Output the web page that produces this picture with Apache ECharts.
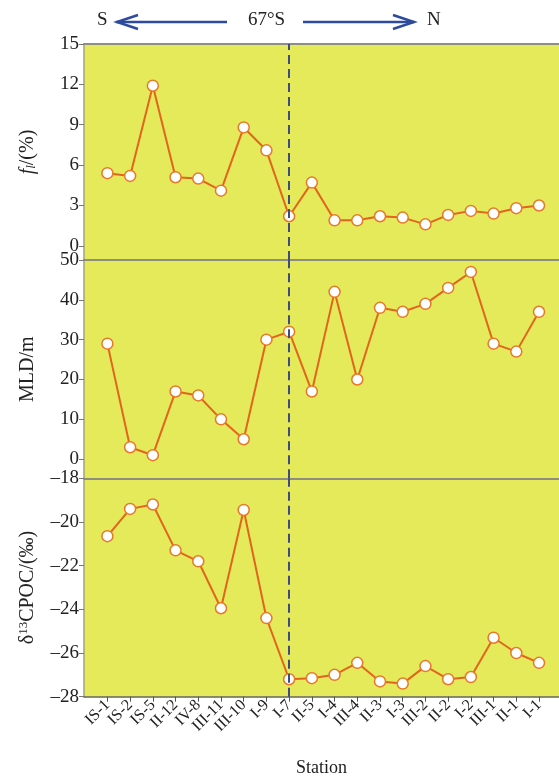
<!DOCTYPE html>
<html>
<head>
<meta charset="utf-8">
<script src="https://cdn.jsdelivr.net/npm/echarts@6/dist/echarts.min.js"></script>
<style>
html,body{margin:0;padding:0;background:#fff;}
#chart{width:559px;height:779px;}
</style>
</head>
<body>
<div id="chart"></div>
<script>
var stations = ['IS-1','IS-2','IS-5','II-12','IV-8','III-11','III-10','I-9','I-7','II-5','I-4','III-4','II-3','I-3','III-2','II-2','I-2','III-1','II-1','I-1'];
var fValues = [5.4,5.2,11.9,5.1,5.0,4.1,8.8,7.1,2.2,4.7,1.9,1.9,2.2,2.1,1.6,2.3,2.6,2.4,2.8,3.0];
var mldValues = [29,3,1,17,16,10,5,30,32,17,42,20,38,37,39,43,47,29,27,37];
var d13cValues = [-20.65,-19.4,-19.2,-21.3,-21.8,-23.95,-19.45,-24.4,-27.2,-27.15,-27.0,-26.45,-27.3,-27.4,-26.6,-27.2,-27.1,-25.3,-26.0,-26.45];
var fTicks = [0,3,6,9,12,15];
var mldTicks = [0,10,20,30,40,50];
var d13cTicks = [-28,-26,-24,-22,-20,-18];
var dividerIndex = 8; // I-7, 67°S

var FONT = "'Liberation Serif','Times New Roman',serif";
var BG = '#e4ea5a';
var LINE = '#e2651d';
var GRAYLINE = '#8e8e7e';

function pairs(vals){ return vals.map(function(v,i){ return [i,v]; }); }
var idx = stations.map(function(s,i){ return i; });

function xAx(gi, opts){
  var base = {
    type:'value', gridIndex:gi, min:-1.03, max:19.88,
    splitLine:{show:false},
    axisLine:{show:true, onZero:false, lineStyle:{color:GRAYLINE, width:2}},
    axisTick:{show:false},
    axisLabel:{show:false}
  };
  for (var k in opts) base[k]=opts[k];
  return base;
}
function yAx(gi, min, max, ticks, name){
  return {
    type:'value', gridIndex:gi, min:min, max:max,
    splitLine:{show:false},
    axisLine:{show:true, onZero:false, lineStyle:{color:'#a3a37a', width:1.5}},
    axisTick:{show:true, customValues:ticks, length:5, lineStyle:{color:'#777'}},
    axisLabel:{customValues:ticks, fontFamily:FONT, fontSize:19, color:'#222', margin:5, hideOverlap:false,
      formatter:function(v){ return String(v).replace('-','\u2013'); }},
    name:name, nameLocation:'middle', nameGap:46, nameRotate:90,
    nameTextStyle:{fontFamily:FONT, fontSize:20, color:'#222',
      rich:{
        it:{fontFamily:FONT, fontSize:20, fontStyle:'italic', color:'#222'},
        sub:{fontFamily:FONT, fontSize:13, fontStyle:'italic', color:'#222', verticalAlign:'bottom', padding:[8,0,0,0]},
        sup:{fontFamily:FONT, fontSize:13, color:'#222', verticalAlign:'top', padding:[0,0,8,0]},
        n:{fontFamily:FONT, fontSize:20, color:'#222'}
      }}
  };
}
var markL = {
  silent:true, symbol:['none','none'], label:{show:false}, z:10,
  lineStyle:{type:[9,5], color:'#3c4c86', width:2},
  data:[{xAxis:dividerIndex}]
};
function ser(gi, vals){
  return {
    type:'line', xAxisIndex:gi, yAxisIndex:gi, data:pairs(vals),
    symbol:'circle', symbolSize:11,
    itemStyle:{color:'#ffffff', borderColor:'#e8782a', borderWidth:1.5},
    lineStyle:{color:LINE, width:2},
    markLine:markL, z:3
  };
}

var chart = echarts.init(document.getElementById('chart'));
chart.setOption({
  animation:false,
  backgroundColor:'#ffffff',
  grid:[
    {left:84, right:0, top:44, height:216, show:true, backgroundColor:BG, borderWidth:0},
    {left:84, right:0, top:260, height:218.3, show:true, backgroundColor:BG, borderWidth:0},
    {left:84, right:0, top:478.3, height:218.4, show:true, backgroundColor:BG, borderWidth:0}
  ],
  xAxis:[
    xAx(0,{}),
    xAx(1,{}),
    xAx(2,{
      axisLine:{show:true, onZero:false, lineStyle:{color:'#666655', width:1.5}},
      axisTick:{show:true, customValues:idx, length:5, lineStyle:{color:'#555'}},
      axisLabel:{show:true, customValues:idx, rotate:45, fontFamily:FONT, fontSize:16, color:'#222', margin:6,
        hideOverlap:false,
        formatter:function(v){ return stations[Math.round(v)] || ''; }},
      name:'Station', nameLocation:'middle', nameGap:63,
      nameTextStyle:{fontFamily:FONT, fontSize:18, color:'#222'}
    }),
    xAx(0,{position:'top'})
  ],
  yAxis:[
    yAx(0, -1.05, 15, fTicks, '{it|f}{sub|l}{n|/(%)}'),
    yAx(1, -4.8, 50, mldTicks, 'MLD/m'),
    yAx(2, -28, -18, d13cTicks, '{n|\u03b4}{sup|13}{n|CPOC/(\u2030)}')
  ],
  series:[ser(0,fValues), ser(1,mldValues), ser(2,d13cValues)],
  graphic:[
    {type:'text', left:97, top:11, style:{text:'S', font:'19px '+FONT, fill:'#222'}},
    {type:'text', left:248, top:11, style:{text:'67\u00b0S', font:'19px '+FONT, fill:'#222'}},
    {type:'text', left:427, top:11, style:{text:'N', font:'19px '+FONT, fill:'#222'}},
    {type:'line', shape:{x1:116, y1:22, x2:227, y2:22}, style:{stroke:'#2d4a9c', lineWidth:2.5}},
    {type:'polyline', shape:{points:[[138,15],[117,22],[138,29]]}, style:{stroke:'#2d4a9c', lineWidth:2.5, fill:null}},
    {type:'line', shape:{x1:303, y1:22, x2:414, y2:22}, style:{stroke:'#2d4a9c', lineWidth:2.5}},
    {type:'polyline', shape:{points:[[393,15],[414,22],[393,29]]}, style:{stroke:'#2d4a9c', lineWidth:2.5, fill:null}}
  ]
});
</script>
</body>
</html>
